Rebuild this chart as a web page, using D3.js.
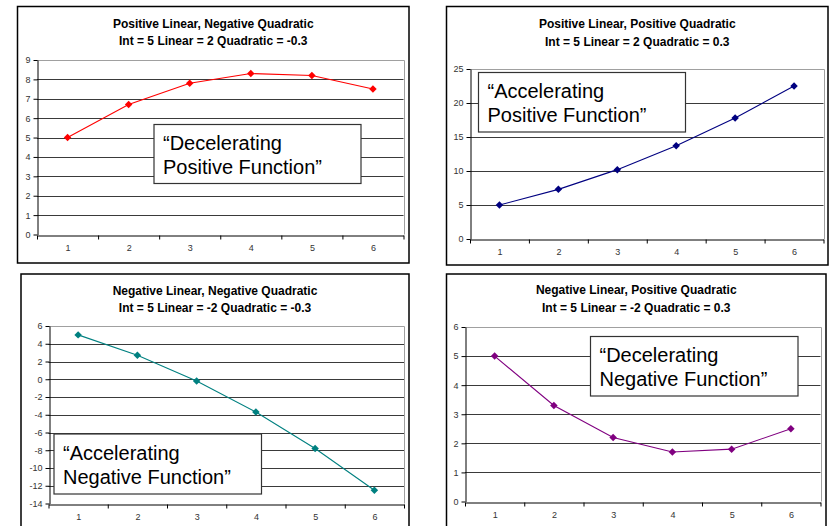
<!DOCTYPE html>
<html>
<head>
<meta charset="utf-8">
<script src="https://cdn.jsdelivr.net/npm/d3@7"></script>
<style>
  html, body { margin: 0; padding: 0; background: #fff; }
  svg { display: block; }
  text { font-family: "Liberation Sans", Arial, sans-serif; }
</style>
</head>
<body>
<svg id="chart" width="829" height="526"></svg>
<script>
// x categories shared by all four charts
const categories = [1, 2, 3, 4, 5, 6];

// series values: y = 5 + linear*t + quadratic*t^2
const posLinNegQuad = [5, 6.7, 7.8, 8.3, 8.2, 7.5];
const posLinPosQuad = [5, 7.3, 10.2, 13.7, 17.8, 22.5];
const negLinNegQuad = [5, 2.7, -0.2, -3.7, -7.8, -12.5];
const negLinPosQuad = [5, 3.3, 2.2, 1.7, 1.8, 2.5];

// y tick labels
const ticksA = [0, 1, 2, 3, 4, 5, 6, 7, 8, 9];
const ticksB = [0, 5, 10, 15, 20, 25];
const ticksC = [-14, -12, -10, -8, -6, -4, -2, 0, 2, 4, 6];
const ticksD = [0, 1, 2, 3, 4, 5, 6];

// titles and annotation texts
const titles = [
  ["Positive Linear, Negative Quadratic", "Int = 5 Linear = 2 Quadratic = -0.3"],
  ["Positive Linear, Positive Quadratic", "Int = 5 Linear = 2 Quadratic = 0.3"],
  ["Negative Linear, Negative Quadratic", "Int = 5 Linear = -2 Quadratic = -0.3"],
  ["Negative Linear, Positive Quadratic", "Int = 5 Linear = -2 Quadratic = 0.3"]
];
const notes = [
  ["\u201CDecelerating", "Positive Function\u201D"],
  ["\u201CAccelerating", "Positive Function\u201D"],
  ["\u201CAccelerating", "Negative Function\u201D"],
  ["\u201CDecelerating", "Negative Function\u201D"]
];

const svg = d3.select("#chart");
const plain = d => String(d); // hyphen-minus, no decimals

const panels = [
  { values: posLinNegQuad, ticks: ticksA, color: "#FF0000",
    box: [17.5, 6.5, 409, 263], plot: [37, 60, 403.5, 234.5], titleY: [27.5, 44.5],
    note: [154, 124.5, 361, 183.5] },
  { values: posLinPosQuad, ticks: ticksB, color: "#000080",
    box: [446.5, 6.5, 828, 265], plot: [470, 69, 823.5, 239], titleY: [28, 45.5],
    note: [478.5, 72.5, 685.5, 132] },
  { values: negLinNegQuad, ticks: ticksC, color: "#008080",
    box: [21, 274, 409, 532], plot: [48.5, 326, 404, 503.5], titleY: [294.5, 312],
    note: [54, 434, 261.5, 494] },
  { values: negLinPosQuad, ticks: ticksD, color: "#800080",
    box: [446.5, 274, 826, 532], plot: [465, 327, 820.5, 501.5], titleY: [294, 312],
    note: [590.5, 336.5, 798, 396] }
];

panels.forEach((p, i) => {
  const g = svg.append("g");
  const [bx0, by0, bx1, by1] = p.box;
  const [px0, py0, px1, py1] = p.plot;

  // outer chart frame
  g.append("rect")
    .attr("x", bx0).attr("y", by0)
    .attr("width", bx1 - bx0).attr("height", by1 - by0)
    .attr("fill", "#fff").attr("stroke", "#000").attr("stroke-width", 1.5);

  // title
  const cx = (bx0 + bx1) / 2;
  titles[i].forEach((t, k) => {
    g.append("text")
      .attr("x", cx).attr("y", p.titleY[k])
      .attr("text-anchor", "middle")
      .attr("font-size", 12).attr("font-weight", "bold")
      .attr("fill", "#000")
      .text(t);
  });

  const x = d3.scaleLinear().domain([0.5, 6.5]).range([px0, px1]);
  const y = d3.scaleLinear().domain(d3.extent(p.ticks)).range([py1, py0]);

  // gridlines
  g.append("g")
    .selectAll("line")
    .data(p.ticks.slice(1))
    .join("line")
    .attr("x1", px0).attr("x2", px1)
    .attr("y1", d => Math.round(y(d)) + 0.5).attr("y2", d => Math.round(y(d)) + 0.5)
    .attr("stroke", "#3a3a3a").attr("stroke-width", 1);

  // plot area top/right edge
  g.append("path")
    .attr("d", `M${px0},${Math.round(py0) + 0.5}H${Math.round(px1) + 0.5}V${py1}`)
    .attr("fill", "none").attr("stroke", "#a0a0a0").attr("stroke-width", 1);

  // y axis
  const yAxis = g.append("g")
    .attr("transform", `translate(${Math.round(px0) + 0.5},0)`)
    .call(d3.axisLeft(y).tickValues(p.ticks).tickFormat(plain)
      .tickSize(4).tickSizeOuter(0).tickPadding(3));
  yAxis.select(".domain").attr("stroke", "#000");
  yAxis.selectAll(".tick line").attr("stroke", "#000");
  yAxis.selectAll("text").attr("font-size", 9).attr("fill", "#333")
    .attr("font-family", "'Liberation Sans', Arial, sans-serif");

  // x axis: tick marks between categories, labels centred on categories
  const xAxisY = Math.round(py1) + 0.5;
  const xMarks = g.append("g")
    .attr("transform", `translate(0,${xAxisY})`)
    .call(d3.axisBottom(x).tickValues(d3.range(0.5, 7, 1)).tickSize(4).tickSizeOuter(0).tickFormat(""));
  xMarks.select(".domain").attr("stroke", "#000");
  xMarks.selectAll(".tick line").attr("stroke", "#000");

  const xLabels = g.append("g")
    .attr("transform", `translate(0,${xAxisY})`)
    .call(d3.axisBottom(x).tickValues(categories).tickFormat(plain).tickSize(0).tickPadding(9));
  xLabels.select(".domain").remove();
  xLabels.selectAll("text").attr("font-size", 9).attr("fill", "#333")
    .attr("font-family", "'Liberation Sans', Arial, sans-serif");

  // series line
  const pts = categories.map((c, j) => [c, p.values[j]]);
  g.append("path")
    .datum(pts)
    .attr("fill", "none")
    .attr("stroke", p.color).attr("stroke-width", 1.1)
    .attr("d", d3.line().x(d => x(d[0])).y(d => y(d[1])));

  // diamond markers
  const diamond = d3.symbol().type(d3.symbolSquare).size(28);
  g.append("g")
    .selectAll("path")
    .data(pts)
    .join("path")
    .attr("transform", d => `translate(${x(d[0])},${y(d[1])}) rotate(45)`)
    .attr("d", diamond)
    .attr("fill", p.color);

  // annotation box
  const [nx0, ny0, nx1, ny1] = p.note;
  g.append("rect")
    .attr("x", nx0).attr("y", ny0)
    .attr("width", nx1 - nx0).attr("height", ny1 - ny0)
    .attr("fill", "#fff").attr("stroke", "#333").attr("stroke-width", 1.2);
  notes[i].forEach((t, k) => {
    g.append("text")
      .attr("x", nx0 + 9).attr("y", ny0 + 25.5 + k * 24)
      .attr("font-size", 20).attr("fill", "#000")
      .text(t);
  });
});
</script>
</body>
</html>
